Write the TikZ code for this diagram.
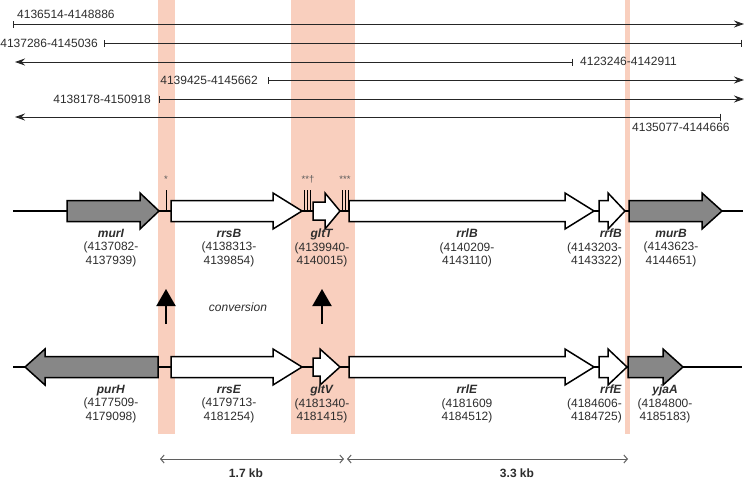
\documentclass[tikz,border=0pt]{standalone}
\usepackage{fontspec}
\setmainfont{Liberation Sans}
\usetikzlibrary{arrows.meta}
\definecolor{bandc}{RGB}{249,207,190}
\definecolor{genegray}{RGB}{135,135,135}
\definecolor{txt}{RGB}{45,45,45}
\definecolor{scalec}{RGB}{95,95,95}
\newcommand{\rgene}[6]{%
  \draw[geneline, fill=#5] (#1,#4-#6) -- (#2,#4-#6) -- (#2,#4-18) -- (#3,#4) -- (#2,#4+18) -- (#2,#4+#6) -- (#1,#4+#6) -- cycle;}
\newcommand{\lgene}[6]{%
  \draw[geneline, fill=#5] (#1,#4-#6) -- (#2,#4-#6) -- (#2,#4-18) -- (#3,#4) -- (#2,#4+18) -- (#2,#4+#6) -- (#1,#4+#6) -- cycle;}
\tikzset{
  band/.style={fill=bandc, draw=none},
  geneline/.style={draw=black, line width=1.5pt, line join=miter},
  backbone/.style={draw=black, line width=1.3pt},
  frag/.style={draw=black!85, line width=0.9pt},
  fraglab/.style={font=\fontsize{12}{13}\selectfont, text=txt, inner sep=0pt},
  genelab/.style={font=\fontsize{12}{13.4}\selectfont, text=txt, align=center, inner sep=0pt, anchor=north},
  genelabr/.style={font=\fontsize{12}{13.4}\selectfont, text=txt, align=right, inner sep=0pt, anchor=north east},
  tick/.style={draw=black, line width=0.8pt},
  star/.style={font=\fontsize{9.5}{9.5}\selectfont, text=black!65, inner sep=0pt},
  conv/.style={draw=black, line width=2pt, -{Triangle[width=19pt,length=17pt]}},
  scalebar/.style={draw=scalec, line width=1pt, {Straight Barb[length=3.5pt,width=8pt]}-{Straight Barb[length=3.5pt,width=8pt]}},
  scalelab/.style={font=\bfseries\fontsize{12}{13}\selectfont, text=txt, inner sep=0pt}
}
\newcommand{\gn}[1]{\textbf{\textit{#1}}}
\begin{document}
\begin{tikzpicture}[x=1pt,y=-1pt]
\useasboundingbox (0,0) rectangle (745,479);
% bands
\fill[band] (158,0) rectangle (175,434);
\fill[band] (291,0) rectangle (355,434);
\fill[band] (625,0) rectangle (630,434);
% fragments
\tikzset{>={Stealth[length=10pt,width=7pt]}}
\coordinate (f1a) at (13,24);  \coordinate (f1b) at (744,24);
\coordinate (f2a) at (104,43); \coordinate (f2b) at (742,43);
\coordinate (f3a) at (15,62);  \coordinate (f3b) at (573,62);
\coordinate (f4a) at (268,80); \coordinate (f4b) at (744,80);
\coordinate (f5a) at (159,99); \coordinate (f5b) at (744,99);
\coordinate (f6a) at (15,117); \coordinate (f6b) at (721,117);
\draw[frag, {Bar[width=7pt]}->] (f1a) -- (f1b);
\draw[frag, {Bar[width=7pt]}-{Bar[width=7pt]}] (f2a) -- (f2b);
\draw[frag, <-{Bar[width=7pt]}] (f3a) -- (f3b);
\draw[frag, {Bar[width=7pt]}->] (f4a) -- (f4b);
\draw[frag, {Bar[width=7pt]}->] (f5a) -- (f5b);
\draw[frag, <-{Bar[width=7pt]}] (f6a) -- (f6b);
\node[fraglab, anchor=west] (l1) at (17,14) {4136514-4148886};
\node[fraglab, anchor=east] (l2) at (98,43) {4137286-4145036};
\node[fraglab, anchor=west] (l3) at (580,61) {4123246-4142911};
\node[fraglab, anchor=east] (l4) at (258,80) {4139425-4145662};
\node[fraglab, anchor=east] (l5) at (151,99) {4138178-4150918};
\node[fraglab, anchor=west] (l6) at (632,127) {4135077-4144666};
% row 1
\coordinate (r1a) at (13,211); \coordinate (r1b) at (743,211);
\draw[backbone] (r1a) -- (r1b);
\rgene{67}{140}{159}{211}{genegray}{10.5}
\rgene{171}{273}{302}{211}{white}{10.5}
\rgene{313}{325}{340}{211}{white}{9}
\rgene{349}{565}{594}{211}{white}{10.5}
\rgene{599}{608}{625}{211}{white}{10.5}
\rgene{629}{702}{722}{211}{genegray}{10.5}
\foreach \x in {166,304,307,310,342,345,348} \draw[tick] (\x,190) -- (\x,211);
\node[star] (s1) at (166,179) {*};
\node[star] (s2) at (308,179) {**\textdagger};
\node[star] (s3) at (345,179) {***};
% row 1 labels
\node[genelab] (murI) at (111,229) {\gn{murI}\\(4137082-\\4137939)};
\node[genelab] (rrsB) at (229,229) {\gn{rrsB}\\(4138313-\\4139854)};
\node[genelab] (gltT) at (322,229) {\gn{gltT}\\(4139940-\\4140015)};
\node[genelab] (rrlB) at (467,229) {\gn{rrlB}\\(4140209-\\4143110)};
\node[genelabr] (rrfB) at (622,229) {\gn{rrfB}\\(4143203-\\4143322)};
\node[genelab] (murB) at (671,229) {\gn{murB}\\(4143623-\\4144651)};
% conversion
\coordinate (c1a) at (166,324); \coordinate (c1b) at (166,289);
\coordinate (c2a) at (322,324); \coordinate (c2b) at (322,289);
\draw[conv] (c1a) -- (c1b);
\draw[conv] (c2a) -- (c2b);
\node[font=\itshape\fontsize{12}{13}\selectfont, text=txt, inner sep=0pt] (conv) at (238,307) {conversion};
% row 2
\coordinate (r2a) at (13,367); \coordinate (r2b) at (742,367);
\draw[backbone] (r2a) -- (r2b);
\lgene{158}{45}{25}{367}{genegray}{10.5}
\rgene{171}{273}{302}{367}{white}{10.5}
\rgene{313}{320}{340}{367}{white}{9}
\rgene{349}{565}{594}{367}{white}{10.5}
\rgene{599}{608}{627}{367}{white}{10.5}
\rgene{628}{663}{683}{367}{genegray}{10.5}
% row 2 labels
\node[genelab] (purH) at (111,385) {\gn{purH}\\(4177509-\\4179098)};
\node[genelab] (rrsE) at (229,385) {\gn{rrsE}\\(4179713-\\4181254)};
\node[genelab] (gltV) at (322,385) {\gn{gltV}\\(4181340-\\4181415)};
\node[genelab] (rrlE) at (467,385) {\gn{rrlE}\\(4181609\\4184512)};
\node[genelabr] (rrfE) at (622,385) {\gn{rrfE}\\(4184606-\\4184725)};
\node[genelab] (yjaA) at (665,385) {\gn{yjaA}\\(4184800-\\4185183)};
% scale
\coordinate (k1) at (160,459); \coordinate (k2) at (344,459);
\coordinate (k3) at (347,459); \coordinate (k4) at (628,459);
\draw[scalebar] (k1) -- (k2);
\draw[scalebar] (k3) -- (k4);
\node[scalelab] (kb1) at (246,473) {1.7 kb};
\node[scalelab] (kb2) at (517,473) {3.3 kb};
\end{tikzpicture}
\end{document}
